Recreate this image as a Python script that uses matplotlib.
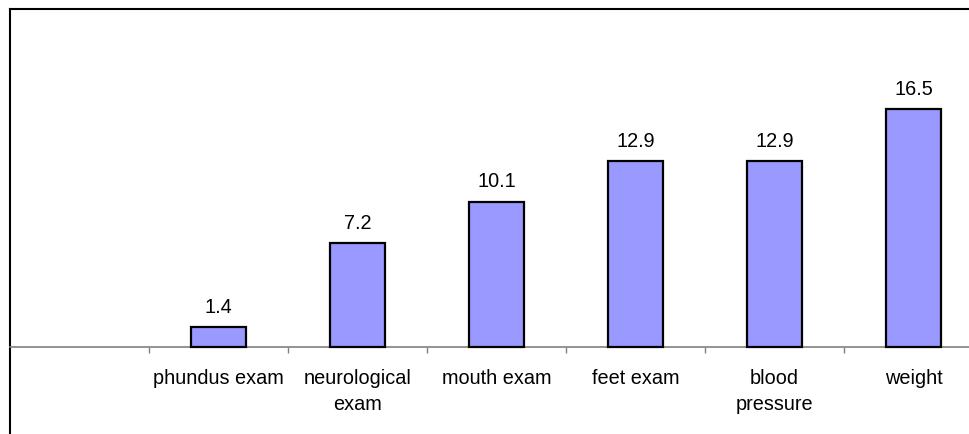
import matplotlib
matplotlib.use("Agg")
import matplotlib.pyplot as plt
import numpy as np

categories = ["phundus exam", "neurological\nexam", "mouth exam", "feet exam", "blood\npressure", "weight"]
values = [1.4, 7.2, 10.1, 12.9, 12.9, 16.5]
value_labels = ["1.4", "7.2", "10.1", "12.9", "12.9", "16.5"]

plt.rcParams['font.family'] = ['Liberation Sans', 'DejaVu Sans']
FS = 14.3

W, H = 969, 435
fig = plt.figure(figsize=(W / 100, H / 100), dpi=100)
ncat = len(categories) + 1  # one empty leading slot
cat_px = 139
ax = fig.add_axes([10 / W, 0, ncat * cat_px / W, (H - 10) / H])

px_per_unit = 14.4
ymin = -(H - 348) / px_per_unit
ymax = (348 - 10) / px_per_unit
ax.set_ylim(ymin, ymax)
ax.set_xlim(0, ncat)

pos = np.arange(1, ncat) + 0.5
ax.bar(pos, values, width=0.4, color="#9999FF", edgecolor="black", linewidth=1.6, zorder=3)
for x, v, t in zip(pos, values, value_labels):
    ax.annotate(t, (x, v), xytext=(0, 8), textcoords="offset points",
                ha="center", va="bottom", fontsize=FS)

ax.spines["right"].set_visible(False)
ax.spines["left"].set_linewidth(1.5)
ax.spines["top"].set_linewidth(1.5)
ax.spines["bottom"].set_position(("data", 0))
ax.spines["bottom"].set_color("#808080")
ax.spines["bottom"].set_linewidth(1.2)

ax.set_yticks([])
ax.set_xticks(np.arange(1, ncat))
ax.set_xticklabels([])
ax.tick_params(axis="x", which="major", direction="out", length=4.5, width=1, color="#808080")
ax.set_xticks(pos, minor=True)
ax.set_xticklabels(categories, minor=True, fontsize=FS, linespacing=1.45)
ax.tick_params(axis="x", which="minor", length=0, pad=15)

fig.savefig("out.png", dpi=100)
